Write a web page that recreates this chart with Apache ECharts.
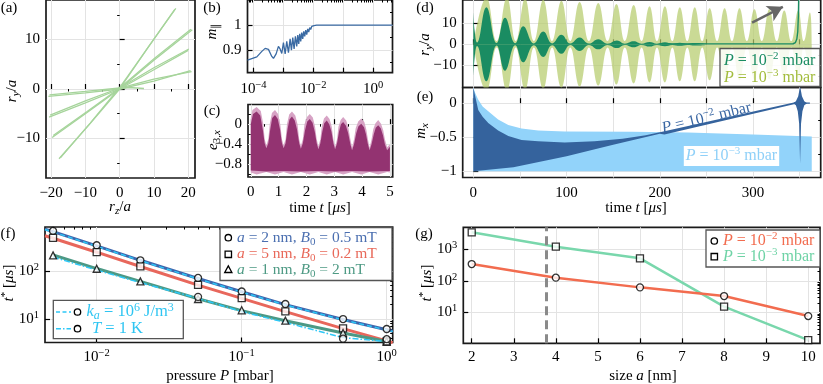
<!DOCTYPE html>
<html>
<head>
<meta charset="utf-8">
<script src="https://cdn.jsdelivr.net/npm/echarts@6/dist/echarts.min.js"></script>
<style>
  html, body { margin: 0; padding: 0; background: #fff; }
  #chart { width: 823px; height: 384px; }
</style>
</head>
<body>
<div id="chart"></div>
<script>
var FONT = '"Liberation Serif", "Times New Roman", serif';

// ---- (a) trajectories r_y/a vs r_z/a
var trajA1 = [[-17.7, -14.1], [-9, -7.3], [0, 0], [8, 8.1], [16.1, 16.1]];
var trajA2 = [[-17.3, -13.9], [-8.6, -6.9], [0, 0.3], [8.3, 8.4], [16.4, 16.3]];
var trajB1 = [[-19.7, -9.8], [-10, -5.0], [0, 0], [10, 5.8], [21.2, 12.0]];
var trajB2 = [[-19.4, -9.4], [-9.6, -4.6], [0, 0.2], [10.2, 6.2], [20.8, 12.1]];
var trajC1 = [[-20.6, -5.7], [-10, -2.8], [0, 0], [10, 3.9], [20.0, 7.8]];
var trajC2 = [[-20.3, -5.3], [-10, -2.4], [0, 0.2], [10, 4.3], [20.2, 8.1]];
var trajD1 = [[-20.8, -1.5], [-10, -0.8], [0, 0], [10, 1.6], [20.7, 3.7]];
var trajD2 = [[-20.5, -1.2], [-10, -0.5], [0, 0.2], [10, 2.0], [21.0, 3.5]];
var trajE = [[0, 0], [2.5, 0.3], [5, 0.2], [7.1, 0.1]];

// ---- (b) m_par vs time (log)
var bCurve = [[6.3e-5, 0.86], [1.29e-4, 0.873], [1.9e-4, 0.895], [2.45e-4, 0.907], [3.16e-4, 0.903],
  [4.08e-4, 0.875], [4.64e-4, 0.867], [5.7e-4, 0.885], [6.8e-4, 0.915], [7.7e-4, 0.905], [8.8e-4, 0.887],
  [1.0e-3, 0.93], [1.14e-3, 0.885], [1.29e-3, 0.935], [1.47e-3, 0.89], [1.67e-3, 0.945], [1.85e-3, 0.9],
  [2.05e-3, 0.95], [2.27e-3, 0.905], [2.51e-3, 0.955], [2.78e-3, 0.915], [3.01e-3, 0.96], [3.25e-3, 0.925],
  [3.5e-3, 0.965], [3.78e-3, 0.935], [4.08e-3, 0.97], [4.41e-3, 0.945], [4.76e-3, 0.975], [5.14e-3, 0.955],
  [5.55e-3, 0.98], [6.0e-3, 0.962], [6.47e-3, 0.985], [6.99e-3, 0.972], [7.55e-3, 0.99], [8.15e-3, 0.982],
  [8.8e-3, 0.995], [9.5e-3, 0.99], [1.05e-2, 0.998], [1.29e-2, 1.0], [0.1, 1.0], [1, 1.0], [4.4, 1.0]];

// ---- (c) e_3x envelope (upper, core, lower)
var cUp = [[0, 0.12], [0.06, 0.28], [0.21, 0.34], [0.36, 0.26], [0.45, 0.0], [0.5, -0.3], [0.56, -0.42], [0.63, -0.3],
  [0.68, 0.0], [0.76, 0.22], [0.87, 0.28], [0.98, 0.2], [1.06, 0.0], [1.12, -0.3], [1.18, -0.42], [1.25, -0.3],
  [1.3, 0.0], [1.38, 0.19], [1.48, 0.25], [1.6, 0.17], [1.68, 0.0], [1.74, -0.3], [1.8, -0.43], [1.87, -0.3],
  [1.93, 0.0], [2.02, 0.14], [2.12, 0.2], [2.23, 0.13], [2.31, -0.05], [2.37, -0.3], [2.43, -0.44], [2.5, -0.3],
  [2.55, -0.05], [2.63, 0.11], [2.73, 0.17], [2.83, 0.1], [2.91, -0.05], [2.97, -0.3], [3.03, -0.45], [3.1, -0.3],
  [3.15, -0.05], [3.23, 0.08], [3.32, 0.14], [3.43, 0.07], [3.51, -0.08], [3.58, -0.3], [3.64, -0.46], [3.71, -0.3],
  [3.77, -0.08], [3.86, 0.05], [3.97, 0.11], [4.08, 0.04], [4.15, -0.1], [4.21, -0.3], [4.27, -0.47], [4.34, -0.3],
  [4.4, -0.1], [4.48, 0.02], [4.58, 0.08], [4.68, 0.01], [4.76, -0.12], [4.82, -0.3], [4.9, -0.46], [5.0, -0.4]];
var cCoreUp = [[0, 0.0], [0.08, 0.2], [0.21, 0.25], [0.34, 0.17], [0.43, -0.1], [0.5, -0.38], [0.56, -0.48], [0.63, -0.38],
  [0.7, -0.1], [0.77, 0.12], [0.87, 0.18], [0.97, 0.1], [1.05, -0.1], [1.12, -0.38], [1.18, -0.48], [1.25, -0.38],
  [1.32, -0.1], [1.39, 0.09], [1.48, 0.15], [1.58, 0.07], [1.66, -0.1], [1.74, -0.38], [1.8, -0.49], [1.87, -0.38],
  [1.95, -0.12], [2.03, 0.05], [2.12, 0.1], [2.22, 0.03], [2.3, -0.15], [2.37, -0.38], [2.43, -0.5], [2.5, -0.38],
  [2.57, -0.15], [2.64, 0.02], [2.73, 0.07], [2.82, 0.0], [2.9, -0.15], [2.97, -0.38], [3.03, -0.5], [3.1, -0.38],
  [3.17, -0.15], [3.24, 0.0], [3.32, 0.04], [3.42, -0.03], [3.5, -0.18], [3.58, -0.4], [3.64, -0.52], [3.71, -0.4],
  [3.79, -0.18], [3.87, -0.04], [3.97, 0.01], [4.07, -0.06], [4.14, -0.2], [4.21, -0.4], [4.27, -0.52], [4.34, -0.4],
  [4.42, -0.2], [4.49, -0.07], [4.58, -0.02], [4.67, -0.08], [4.75, -0.22], [4.82, -0.4], [4.9, -0.52], [5.0, -0.45]];
var cCoreLo = [[0, -0.92], [0.56, -0.94], [1.18, -0.93], [1.8, -0.94], [2.43, -0.93], [3.03, -0.94], [3.64, -0.93], [4.27, -0.94], [5.0, -0.93]];
var cLo = [[0, -0.96], [0.21, -1.0], [0.56, -0.95], [0.87, -1.0], [1.18, -0.95], [1.48, -1.0], [1.8, -0.95], [2.12, -1.0],
  [2.43, -0.95], [2.73, -1.0], [3.03, -0.95], [3.32, -1.0], [3.64, -0.95], [3.97, -1.0], [4.27, -0.95], [4.58, -1.0],
  [4.9, -0.95], [5.0, -0.96]];

// ---- (d) r_y/a envelopes (node / antinode amplitudes)
var dEnvLow = [[0, 0], [14, 22], [25, 1.5], [36, 22], [45.5, 1.5], [55.5, 21.5], [65, 1.5], [75, 21], [84.5, 1.5],
  [94.5, 20.5], [104, 1.5], [114, 20], [124, 1.5], [134, 19.5], [144, 1.5], [153.5, 19], [162.5, 1.5], [172, 18.5],
  [180.5, 1.5], [189, 18], [197, 1.5], [205.5, 18], [213.5, 1.5], [221.5, 17.5], [229.5, 1.5], [237.5, 17.5],
  [245.5, 1.5], [253.5, 17], [261.5, 1.5], [269.5, 17], [277.5, 1.5], [285.5, 17], [293.5, 1.5], [301.5, 16.5],
  [309.5, 1.5], [317.5, 16.5], [325.5, 1.5], [333.5, 16], [341, 1.5], [348.5, 16], [354.5, 1.5], [361, 15], [363, 0]];
var dEnvHigh = [[0, 15.5], [1.5, 6], [4, 0.8], [14, 17.5], [25, 0.6], [34, 12.5], [45, 0.5], [53.5, 8.5], [65, 0.4],
  [75, 6], [84.5, 0.4], [94.5, 4.5], [104, 0.35], [114, 3.2], [124, 0.35], [134, 2.4], [144, 0.3], [154, 1.8],
  [162.5, 0.3], [172, 1.4], [180.5, 0.3], [189, 1.1], [197, 0.3], [205.5, 0.9], [213.5, 0.3], [221.5, 0.7],
  [229.5, 0.3], [237.5, 0.6], [250, 0.3]];
var dTailHigh = [[200, 0.2], [343, 0.25], [345.5, 0.8], [347, 2.5], [348, 6], [348.7, 14], [349, 22]];
var dArrow = [[299, 10.2], [332, 17.7]];

// ---- (e) m_x envelopes
var eLowUp = [[0, 0.23], [2, 0.15], [5.3, 0.05], [10, -0.05], [16, -0.12], [26.6, -0.24], [37.5, -0.32], [51.7, -0.37],
  [69.5, -0.4], [98, -0.415], [170, -0.42], [230, -0.43], [300, -0.46], [363, -0.49]];
var eLowLo = [[0, -1], [363, -1]];
var eHighUp = [[0, 0.23], [2, 0.1], [5.3, -0.1], [10, -0.2], [16, -0.29], [26.6, -0.4], [37.5, -0.48], [51.7, -0.54],
  [69.5, -0.56], [98, -0.575], [130, -0.56], [160, -0.52], [185, -0.47], [205, -0.41], [345, 0.012]];
var eHighLo = [[0, -1], [43, -0.94], [100, -0.78], [150, -0.61], [200, -0.45], [205, -0.46], [345, -0.012]];
var eSpikeUp = [[343, 0], [346, 0.03], [348.5, 0.1], [350.5, 0.25], [352.5, 0.1], [355, 0.03], [358, 0]];
var eSpikeLo = [[343, 0], [346, -0.03], [348, -0.12], [349.5, -0.3], [350.5, -0.89], [351.5, -0.3], [353, -0.12], [355, -0.03], [358, 0]];
var eTailHigh = [[344, 0], [361, 0]];

// ---- (f) t* vs pressure
var fP = [0.005, 0.01, 0.02, 0.05, 0.1, 0.2, 0.5, 1];
var fCircle = [690, 346, 168, 72, 37.5, 20.6, 10, 6.2];
var fSquare = [492, 250, 125, 51.6, 27.2, 14.5, 6.4, 3.4];
var fTriangle = [213, 112, 61, 26.2, 15.2, 9.25, 5.1, 3.4];
var fTP = [0.05, 0.5, 1];
var fTCircle = [29, 3.9, 3.8];
var fCurveP = [0.0044, 0.005, 0.01, 0.02, 0.05, 0.1, 0.2, 0.5, 1, 1.1];
var fBlue = [750, 665, 335, 168, 70, 37, 20, 9.8, 6.0, 5.6];
var fKa = [735, 655, 330, 165, 69, 36.5, 19.7, 9.6, 5.9, 5.5];
var fRed = [545, 485, 248, 125, 51, 27, 14.3, 6.3, 3.5, 3.2];
var fGreen = [218, 113, 61, 26.5, 15, 9.2, 5.1, 3.4];
var fTLine = [196, 105, 57.5, 27, 14.3, 8.5, 4.1, 3.4];

// ---- (g) t* vs size
var gA = [2, 4, 6, 8, 10];
var gHigh = [341, 126, 62, 32.9, 7.6];    // P = 1e-2 mbar
var gLow = [3470, 1210, 518, 15.1, 1.32]; // P = 1e-3 mbar
var gMark = 3.77;

function zip(xs, ys) { return xs.map(function (x, i) { return [x, ys[i]]; }); }
function decadeMinors(e0, e1) {
  var out = [];
  for (var e = e0; e <= e1; e++) for (var k = 2; k <= 9; k++) out.push(+(k * Math.pow(10, e)).toPrecision(3));
  return out;
}
function numLabel(v) { return String(Math.round(v * 1000) / 1000).replace('-', '\u2212'); }
function powLabel(v) {
  var e = Math.round(Math.log(v) / Math.LN10);
  return '{n|10}{s|' + String(e).replace('-', '\u2212') + '}';
}
var AXRICH = {
  n: { fontFamily: FONT, fontSize: 15, lineHeight: 19, color: '#000' },
  s: { fontFamily: FONT, fontSize: 10.5, lineHeight: 10, verticalAlign: 'top', color: '#000' }
};

var xAxes = [], yAxes = [];
function addAxis(list, grid, o) {
  var idx = list.length;
  var type = o.log ? 'log' : 'value';
  list.push({
    type: type, gridIndex: grid, min: o.min, max: o.max, splitNumber: o.split || 5,
    axisLine: { show: false },
    axisTick: { show: true, inside: true, length: 5, customValues: o.ticks, lineStyle: { color: '#000', width: 1.2 } },
    axisLabel: { show: !!o.labels, customValues: o.labels, formatter: o.log ? powLabel : numLabel,
      fontFamily: FONT, fontSize: 15, color: '#000', margin: o.margin == null ? 6 : o.margin, rich: AXRICH },
    splitLine: { show: true, lineStyle: { color: '#e3e3e3', width: 1 } }
  });
  if (o.minor) {
    list.push({
      type: type, gridIndex: grid, min: o.min, max: o.max, splitNumber: o.split || 5,
      axisLine: { show: false }, axisLabel: { show: false }, splitLine: { show: false },
      axisTick: { show: true, inside: true, length: 2.5, customValues: o.minor, lineStyle: { color: '#000', width: 1 } }
    });
  }
  return idx;
}

var grids = [
  { left: 46, top: 0, width: 149, height: 178 },          // a
  { left: 247.5, top: 0, width: 145, height: 72.7 },      // b
  { left: 248, top: 104.5, width: 144.7, height: 72.5 },  // c
  { left: 462.7, top: 0, width: 358, height: 87.5 },      // d
  { left: 462.7, top: 87.5, width: 358, height: 90 },     // e
  { left: 45, top: 227, width: 347.7, height: 115.5 },    // f
  { left: 463.3, top: 227.3, width: 356.7, height: 116 }  // g
].map(function (g) {
  return Object.assign({ show: true, borderColor: '#1a1a1a', borderWidth: 1.7, backgroundColor: 'transparent', containLabel: false }, g);
});

var xa = addAxis(xAxes, 0, { min: -21.5, max: 22, split: 5, ticks: [-20, -10, 0, 10, 20], labels: [-20, -10, 0, 10, 20], minor: [-15, -5, 5, 15], margin: 8 });
var ya = addAxis(yAxes, 0, { min: -18, max: 18, split: 4, ticks: [-10, 0, 10], labels: [-10, 0, 10], minor: [-15, -5, 5, 15] });
var xb = addAxis(xAxes, 1, { log: true, min: 6.3e-5, max: 4.4, ticks: [1e-4, 1e-3, 1e-2, 1e-1, 1], labels: [1e-4, 1e-2, 1], minor: [7e-5, 8e-5, 9e-5].concat(decadeMinors(-4, 0)), margin: 7 });
var yb = addAxis(yAxes, 1, { min: 0.81, max: 1.1, split: 3, ticks: [0.9, 1.0], labels: [0.9, 1], minor: [0.85, 0.95, 1.05] });
var xc = addAxis(xAxes, 2, { min: -0.1, max: 5.1, split: 5, ticks: [0, 1, 2, 3, 4, 5], labels: [0, 1, 2, 3, 4, 5], minor: [0.5, 1.5, 2.5, 3.5, 4.5], margin: 8 });
var yc = addAxis(yAxes, 2, { min: -1.05, max: 0.39, split: 7, ticks: [-0.8, -0.4, 0], labels: [-0.8, -0.4, 0], minor: [-1.0, -0.6, -0.2, 0.2] });
var xd = addAxis(xAxes, 3, { min: -11.4, max: 372.6, split: 4, ticks: [0, 50, 100, 150, 200, 250, 300, 350] });
var yd = addAxis(yAxes, 3, { min: -20.4, max: 20.9, split: 4, ticks: [-10, 0, 10], labels: [-10, 0, 10], minor: [-15, -5, 5, 15] });
var xe = addAxis(xAxes, 4, { min: -11.4, max: 372.6, split: 4, ticks: [0, 50, 100, 150, 200, 250, 300, 350], labels: [0, 100, 200, 300], margin: 8 });
var ye = addAxis(yAxes, 4, { min: -1.09, max: 0.23, split: 3, ticks: [-1, -0.5, 0], labels: [-1, -0.5, 0], minor: [-0.75, -0.25] });
var xf = addAxis(xAxes, 5, { log: true, min: 0.0044, max: 1.1, ticks: [0.01, 0.1, 1], labels: [0.01, 0.1, 1], minor: decadeMinors(-3, -1).filter(function (v) { return v > 0.0044; }), margin: 5 });
var yf = addAxis(yAxes, 5, { log: true, min: 3.24, max: 832, ticks: [10, 100], labels: [10, 100], minor: decadeMinors(0, 2).filter(function (v) { return v > 3.24 && v < 832; }) });
var xg = addAxis(xAxes, 6, { min: 1.8, max: 10.28, split: 4, ticks: [2, 3, 4, 5, 6, 7, 8, 9, 10], labels: [2, 3, 4, 5, 6, 7, 8, 9, 10], margin: 6 });
var yg = addAxis(yAxes, 6, { log: true, min: 1.04, max: 5000, ticks: [10, 100, 1000], labels: [10, 100, 1000], minor: decadeMinors(0, 3).filter(function (v) { return v > 1.04 && v < 5000; }) });

function line(xi, yi, data, color, width, extra) {
  return Object.assign({
    type: 'line', xAxisIndex: xi, yAxisIndex: yi, data: data, showSymbol: false, symbol: 'none', silent: true,
    lineStyle: { color: color, width: width }, z: 3
  }, extra || {});
}
function band(xi, yi, upper, lower, fill, opacity, z) {
  return {
    type: 'custom', xAxisIndex: xi, yAxisIndex: yi, clip: true, silent: true, z: z || 2,
    data: [upper[0]],
    renderItem: function (params, api) {
      var pts = [];
      upper.forEach(function (p) { pts.push(api.coord(p)); });
      lower.slice().reverse().forEach(function (p) { pts.push(api.coord(p)); });
      return { type: 'polygon', shape: { points: pts }, style: { fill: fill, opacity: opacity } };
    }
  };
}
function lobes(env, sign, color, opacity, z) {
  return {
    type: 'line', xAxisIndex: xd, yAxisIndex: yd, silent: true, z: z,
    data: env.map(function (p) { return [p[0], sign * p[1]]; }),
    smooth: 0.45, showSymbol: false, symbol: 'none',
    lineStyle: { width: 0 }, areaStyle: { color: color, opacity: opacity }
  };
}
function markers(xi, yi, data, symbol, size) {
  return {
    type: 'scatter', xAxisIndex: xi, yAxisIndex: yi, data: data, symbol: symbol, symbolSize: size || 7, silent: true, z: 6,
    itemStyle: { color: '#fff', borderColor: '#000', borderWidth: 1.3 }
  };
}

var GREEN_A = '#a6d49b';
var series = [];
// (a)
[trajA1, trajA2, trajB1, trajB2, trajC1, trajC2, trajD1, trajD2, trajE].forEach(function (t) {
  series.push(line(xa, ya, t, GREEN_A, 1.3));
});
// (b)
series.push(line(xb, yb, bCurve, '#3a6aa3', 1.3));
// (c)
series.push(band(xc, yc, cUp, cLo, '#d7a3c5', 1, 2));
series.push(band(xc, yc, cCoreUp, cCoreLo, '#8c2767', 0.9, 3));
// (d)
series.push(lobes(dEnvLow, 1, '#b5cc6c', 0.72, 2));
series.push(lobes(dEnvLow, -1, '#b5cc6c', 0.72, 2));
series.push(lobes(dEnvHigh, 1, '#1a8c62', 1, 3));
series.push(lobes(dEnvHigh, -1, '#1a8c62', 1, 3));
series.push(line(xd, yd, dTailHigh, '#1a8c62', 1.4, {
  z: 4,
  markLine: {
    silent: true, symbol: ['none', 'arrow'], symbolSize: [13, 15], label: { show: false },
    lineStyle: { color: '#666', width: 2.5, type: 'solid' },
    data: [[{ coord: dArrow[0] }, { coord: dArrow[1] }]]
  }
}));
// (e)
series.push(band(xe, ye, eLowUp, eLowLo, '#92d3fa', 1, 2));
series.push(band(xe, ye, eHighUp, eHighLo, '#35639d', 1, 3));
series.push(band(xe, ye, eSpikeUp, eSpikeLo, '#35639d', 1, 3));
series.push(line(xe, ye, eTailHigh, '#35639d', 1.3));
// (f)
series.push(line(xf, yf, zip(fCurveP, fRed), '#e8675c', 3));
series.push(line(xf, yf, zip(fP, fGreen), '#4c9985', 3));
series.push(line(xf, yf, zip(fCurveP, fBlue), '#3f66ad', 3));
series.push(line(xf, yf, zip(fCurveP, fKa), '#2dc8f7', 1.5, { z: 4, lineStyle: { color: '#2dc8f7', width: 1.5, type: [5, 3] } }));
series.push(line(xf, yf, zip(fP, fTLine), '#2dc8f7', 1.5, { z: 4, lineStyle: { color: '#2dc8f7', width: 1.5, type: [6, 2, 1.5, 2] } }));
series.push(markers(xf, yf, zip(fP, fCircle), 'circle', 7));
series.push(markers(xf, yf, zip(fP, fSquare), 'rect', 7));
series.push(markers(xf, yf, zip(fP, fTriangle), 'triangle', 7));
series.push(markers(xf, yf, zip(fTP, fTCircle), 'circle', 7));
// (g)
series.push(line(xg, yg, zip(gA, gLow), '#79d7ac', 2.5));
series.push(line(xg, yg, zip(gA, gHigh), '#f26c4f', 2.5, {
  markLine: {
    silent: true, symbol: 'none', label: { show: false },
    lineStyle: { color: '#8a8a8a', width: 3, type: [9, 5] },
    data: [{ xAxis: gMark }]
  }
}));
series.push(markers(xg, yg, zip(gA, gHigh), 'circle', 7));
series.push(markers(xg, yg, zip(gA, gLow), 'rect', 7));

// ---- text and legends
function tRich(color, size) {
  var base = { fontFamily: FONT, fontSize: size, lineHeight: size + 4, fill: color };
  var small = { fontFamily: FONT, fontSize: Math.round(size * 0.7), lineHeight: Math.round(size * 0.65), fill: color };
  return {
    n: base,
    i: Object.assign({}, base, { fontStyle: 'italic' }),
    sup: Object.assign({}, small, { verticalAlign: 'top' }),
    sub: Object.assign({}, small, { verticalAlign: 'bottom' }),
    subi: Object.assign({}, small, { verticalAlign: 'bottom', fontStyle: 'italic' })
  };
}
function label(x, y, text, o) {
  o = o || {};
  var size = o.size || 15;
  var color = o.color || '#000';
  var style = { text: text, rich: tRich(color, size), fill: color, font: size + 'px ' + FONT,
    align: o.align || 'center', verticalAlign: 'middle' };
  if (o.bg) { style.backgroundColor = o.bg; style.padding = [0, 2]; }
  return { type: 'text', x: x, y: y, rotation: o.rot || 0, z: 100, silent: true, style: style };
}
function box(x, y, w, h, fill) {
  return { type: 'rect', z: 95, silent: true, shape: { x: x, y: y, width: w, height: h },
    style: { fill: fill || '#fff', stroke: '#555', lineWidth: 1.3 } };
}
function mCircle(x, y) { return { type: 'circle', z: 101, silent: true, shape: { cx: x, cy: y, r: 3.2 }, style: { fill: '#fff', stroke: '#000', lineWidth: 1.3 } }; }
function mSquare(x, y) { return { type: 'rect', z: 101, silent: true, shape: { x: x - 3.2, y: y - 3.2, width: 6.4, height: 6.4 }, style: { fill: '#fff', stroke: '#000', lineWidth: 1.3 } }; }
function mTri(x, y) { return { type: 'polygon', z: 101, silent: true, shape: { points: [[x, y - 3.8], [x + 3.6, y + 2.8], [x - 3.6, y + 2.8]] }, style: { fill: '#fff', stroke: '#000', lineWidth: 1.3 } }; }
function seg(x1, x2, y, color, dash) { return { type: 'line', z: 101, silent: true, shape: { x1: x1, y1: y, x2: x2, y2: y }, style: { stroke: color, lineWidth: 1.5, lineDash: dash } }; }

var TSTAR = '{i|t}{sup|*}{n| [}{i|μs}{n|]}';
var TIME = '{n|time }{i|t}{n| [}{i|μs}{n|]}';
var P2 = '{i|P}{n| = 10}{sup|\u22122}{n| mbar}';
var P3 = '{i|P}{n| = 10}{sup|\u22123}{n| mbar}';
var graphics = [
  label(9, 8, '(a)'), label(212, 8, '(b)'), label(212, 111, '(c)'), label(425, 8, '(d)'),
  label(425, 97, '(e)'), label(8, 234, '(f)'), label(424, 234, '(g)'),
  label(120, 207, '{i|r}{subi|z}{n|/}{i|a}'),
  label(12, 91, '{i|r}{subi|y}{n|/}{i|a}', { rot: Math.PI / 2 }),
  label(212, 31, '{i|m}{sub|\u2225}', { rot: Math.PI / 2 }),
  label(213, 140, '{i|e}{sub|3,}{subi|x}', { rot: Math.PI / 2 }),
  label(320, 208, TIME),
  label(425, 44.5, '{i|r}{subi|y}{n|/}{i|a}', { rot: Math.PI / 2 }),
  label(421, 131, '{i|m}{subi|x}', { rot: Math.PI / 2 }),
  label(636, 208, TIME),
  label(9, 283, TSTAR, { rot: Math.PI / 2 }),
  label(220, 376, '{n|pressure }{i|P}{n| [mbar]}'),
  label(427, 283, TSTAR, { rot: Math.PI / 2 }),
  label(643, 376, '{n|size }{i|a}{n| [nm]}'),
  // (d) legend
  box(720, 48.5, 100, 38, 'rgba(255,255,255,0.85)'),
  label(724, 61, P2, { align: 'left', color: '#1a8c62', size: 16 }),
  label(724, 77.5, P3, { align: 'left', color: '#a2bc3c', size: 16 }),
  // (e) labels
  label(706.5, 118, P2, { rot: 0.236, color: '#3a67a3', size: 16 }),
  label(731.5, 156, P3, { color: '#8fd0f8', bg: '#fff', size: 16 }),
  // (f) legends
  box(220, 227.5, 172, 53),
  mCircle(228.3, 237.7), mSquare(228.3, 254.3), mTri(228.3, 269.7),
  label(237, 237.7, '{i|a}{n| = 2 nm, }{i|B}{sub|0}{n| = 0.5 mT}', { align: 'left', color: '#4b6fb0', size: 15.5 }),
  label(237, 254.3, '{i|a}{n| = 5 nm, }{i|B}{sub|0}{n| = 0.2 mT}', { align: 'left', color: '#e8695a', size: 15.5 }),
  label(237, 269.7, '{i|a}{n| = 1 nm, }{i|B}{sub|0}{n| = 2 mT}', { align: 'left', color: '#4e9a84', size: 15.5 }),
  box(53.3, 300.3, 130, 38.4),
  seg(56, 71, 312, '#2dc8f7', [4, 2.5]), mCircle(77.5, 312),
  seg(56, 71, 328.7, '#2dc8f7', [5, 2, 1.5, 2]), mCircle(77.5, 328.7),
  label(86.5, 312, '{i|k}{subi|a}{n| = 10}{sup|6}{n| J/m}{sup|3}', { align: 'left', color: '#2ec5f2', size: 16.5 }),
  label(92, 328.7, '{i|T}{n| = 1 K}', { align: 'left', color: '#2ec5f2', size: 16.5 }),
  // (g) legend
  box(706, 230, 114, 37),
  mCircle(714.3, 241), mSquare(714.3, 256.7),
  label(723, 241, P2, { align: 'left', color: '#f26c4f', size: 16 }),
  label(723, 256.7, P3, { align: 'left', color: '#6fd3a6', size: 16 })
];

var chart = echarts.init(document.getElementById('chart'), null, { renderer: 'canvas' });
chart.setOption({
  animation: false,
  backgroundColor: '#fff',
  textStyle: { fontFamily: FONT },
  grid: grids,
  xAxis: xAxes,
  yAxis: yAxes,
  series: series,
  graphic: graphics
});
</script>
</body>
</html>
